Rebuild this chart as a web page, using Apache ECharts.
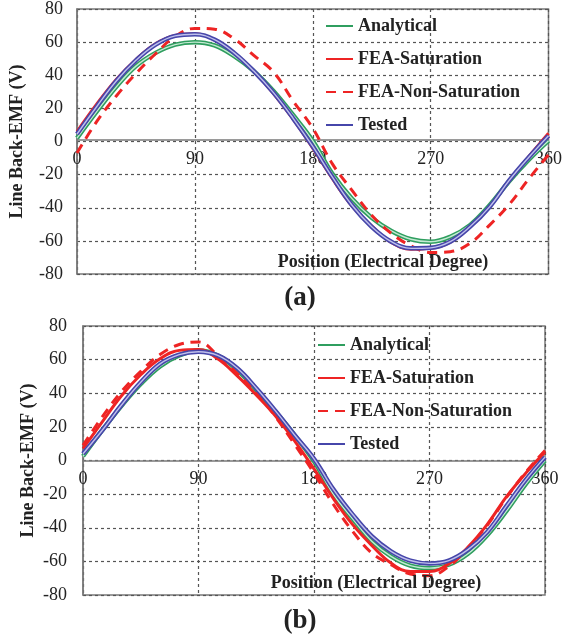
<!DOCTYPE html>
<html>
<head>
<meta charset="utf-8">
<script src="https://cdn.jsdelivr.net/npm/echarts@6/dist/echarts.min.js"></script>
<style>
html,body{margin:0;padding:0;background:#fff;}
#chart{width:565px;height:643px;}
</style>
</head>
<body>
<div id="chart"></div>
<script>
// Electrical position (degrees)
const angles = [0,15,30,45,60,75,90,105,120,135,150,165,180,195,210,225,240,255,270,285,300,315,330,345,360];
const xTicks = [0,90,180,270,360];
const yTicks = [-80,-60,-40,-20,0,20,40,60,80];
const seriesNames = ['Analytical','FEA-Saturation','FEA-Non-Saturation','Tested'];

// (a)
const aAnalytical = [2,18,33,45.5,53.5,58.5,60,58,51.5,42.5,30.5,16,0.4,-19.5,-34.5,-46,-54,-59,-60.5,-57.5,-50.5,-38.5,-24,-11,0.5];
const aFeaSat     = [6,22.5,37.5,49.5,59,64,65,61.5,53.5,42.5,29,13.5,-4,-22.5,-39,-51,-61,-65,-64.5,-60.8,-51.5,-39.5,-23.5,-9,5];
const aFeaNonSat  = [-7,12,27.5,41,53,63.5,68.3,67.8,62,52,42,24.5,8,-13.5,-29.5,-44.5,-55.5,-63,-67,-66.5,-61.5,-50.5,-38,-22.5,-8];
const aTested     = [4.5,21,36.5,49,58.5,63.8,64.8,61.5,53.5,42.5,29.5,14,-3,-21.5,-38.5,-51.5,-60.5,-64.5,-64.2,-60.5,-51.5,-39.5,-23.5,-9.5,3.5];

// (b)
const bAnalytical = [2.5,18,32.5,45.5,56,62.5,65.5,62.5,54,42,29,15,-0.5,-20,-34.5,-48,-57,-62.5,-64,-62,-55.5,-44.5,-30,-14,0];
const bFeaSat     = [7,23,38.5,51,60.5,65.5,66,60.5,50.5,39,26.5,11.5,-5,-22.5,-38,-50.5,-61,-66,-66,-61.5,-51.5,-38,-21.5,-7.5,5];
const bFeaNonSat  = [9,26,41,53,63,69,70.5,62.5,52,40.5,26,9.5,-7.5,-26,-42,-55,-62,-67.5,-68.5,-63,-52,-38.5,-22,-7,6];
const bTested     = [4,18,33,46.5,57.5,63,64.7,62.5,55,43,29.5,15,1,-17,-32,-45,-54,-59.5,-61.2,-59.5,-53,-42.5,-27,-11.5,2];

const SERIF = '"Liberation Serif","Times New Roman",serif';
const GREEN = '#2f9e5f', GREEN_IN = '#c4ead3';
const RED = '#ee2424';
const BLUE = '#4646aa', BLUE_IN = '#c0c0ec';

function pairs(arr){ return angles.map((x,i)=>[x,arr[i]]); }

function makeSeries(gi, vals){
  const [an, fs, fn, te] = vals;
  const base = {type:'line', xAxisIndex:gi, yAxisIndex:gi, symbol:'none', smooth:0.4, silent:true, animation:false};
  return [
    Object.assign({}, base, {name:'Analytical', data:pairs(an), color:GREEN, lineStyle:{color:GREEN,width:4.5}}),
    Object.assign({}, base, {name:'Analytical-inner', data:pairs(an), color:GREEN_IN, lineStyle:{color:GREEN_IN,width:1.4}}),
    Object.assign({}, base, {name:'FEA-Saturation', data:pairs(fs), color:RED, lineStyle:{color:RED,width:3}}),
    Object.assign({}, base, {name:'FEA-Non-Saturation', data:pairs(fn), color:RED, lineStyle:{color:RED,width:3,type:[10,7]}}),
    Object.assign({}, base, {name:'Tested', data:pairs(te), color:BLUE, lineStyle:{color:BLUE,width:4.5}}),
    Object.assign({}, base, {name:'Tested-inner', data:pairs(te), color:BLUE_IN, lineStyle:{color:BLUE_IN,width:1.4}})
  ];
}

function xAxisCfg(gi, off){
  return {
    type:'value', gridIndex:gi, min:xTicks[0], max:xTicks[xTicks.length-1], interval:90,
    offset:off,
    axisLine:{show:true,onZero:false,lineStyle:{color:'#7a7a7a',width:1.5}},
    axisTick:{show:false},
    axisLabel:{fontFamily:SERIF,fontSize:18,color:'#222',margin:10,showMinLabel:true,showMaxLabel:true},
    splitLine:{show:true,lineStyle:{color:'#555',width:1.2,type:[3,3]}}
  };
}
function yAxisCfg(gi, margin, gap){
  return {
    type:'value', gridIndex:gi, min:yTicks[0], max:yTicks[yTicks.length-1], interval:20,
    name:'Line Back-EMF (V)', nameLocation:'middle', nameGap:gap, nameMoveOverlap:false,
    nameTextStyle:{fontFamily:SERIF,fontWeight:'bold',fontSize:18,color:'#222'},
    axisLine:{show:true,onZero:false,lineStyle:{color:'#7a7a7a',width:1.5}},
    axisTick:{show:false},
    axisLabel:{fontFamily:SERIF,fontSize:18,color:'#222',margin:margin},
    splitLine:{show:true,lineStyle:{color:'#555',width:1.2,type:[3,3]}}
  };
}
function legendCfg(left, top){
  return {
    orient:'vertical', left:left, top:top, padding:0, itemWidth:27, itemHeight:14, itemGap:15,
    selectedMode:false, data:seriesNames,
    itemStyle:{opacity:0},
    textStyle:{fontFamily:SERIF,fontWeight:'bold',fontSize:18,color:'#222',lineHeight:18}
  };
}
function textEl(x, y, txt, size){
  return {type:'text', x:x, y:y, z:100, style:{text:txt, font:'bold '+size+'px '+SERIF, fill:'#222', align:'center', verticalAlign:'middle', textAlign:'center', textVerticalAlign:'middle'}};
}

const chart = echarts.init(document.getElementById('chart'), null, {renderer:'canvas'});
chart.setOption({
  backgroundColor:'#fff',
  animation:false,
  grid:[
    {left:77, top:6, width:475, height:268, show:true, borderColor:'#7a7a7a', borderWidth:1.5},
    {left:83, top:326, width:462, height:269, show:true, borderColor:'#7a7a7a', borderWidth:1.5}
  ],
  xAxis:[xAxisCfg(0,-134), xAxisCfg(1,-134.5)],
  yAxis:[yAxisCfg(0,14,51), yAxisCfg(1,16,46)],
  legend:[legendCfg(325,17), legendCfg(317,336)],
  series:[].concat(
    makeSeries(0,[aAnalytical,aFeaSat,aFeaNonSat,aTested]),
    makeSeries(1,[bAnalytical,bFeaSat,bFeaNonSat,bTested])
  ),
  graphic:[
    textEl(383,262,'Position (Electrical Degree)',18),
    textEl(376,583,'Position (Electrical Degree)',18),
    textEl(300,298,'(a)',27),
    textEl(300,621,'(b)',27)
  ]
});
</script>
</body>
</html>
